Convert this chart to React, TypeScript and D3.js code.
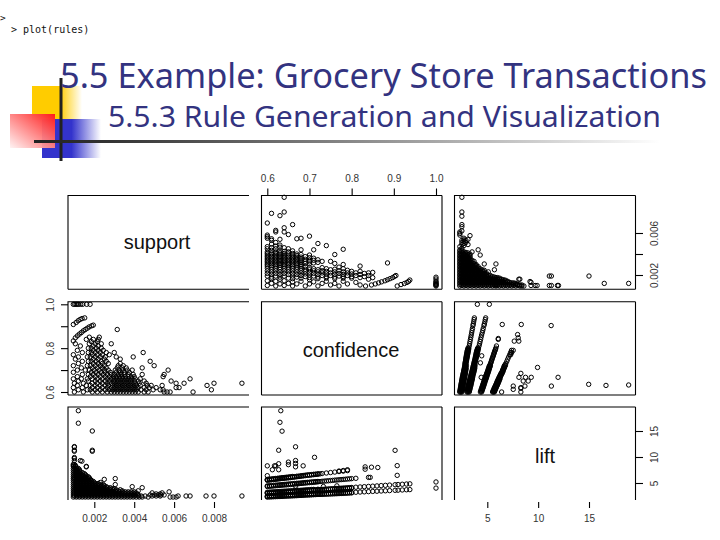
import React, { useEffect, useRef } from "react";
import * as d3 from "d3";

const titleText = "5.5 Example: Grocery Store Transactions";
const subtitleText = "5.5.3 Rule Generation and Visualization";
const promptLines = [">", "> plot(rules)"];
const variableNames = ["support", "confidence", "lift"];

const supportTicks = [0.002, 0.004, 0.006, 0.008];
const supportSideTicks = [0.002, 0.004, 0.006];
const supportSideLabels = [0.002, 0.006];
const confidenceTicks = [0.6, 0.7, 0.8, 0.9, 1.0];
const confidenceSideLabels = [0.6, 0.8, 1.0];
const liftTicks = [5, 10, 15];

// Rules. Support is in thousandths.
// [confidence, supports...]
const confidenceSupportRows: [number, number[]][] = [
  [1.0, [0.95, 1.02, 1.09, 1.15, 1.22, 1.32, 1.42, 1.62, 1.79]],
  [0.938, [1.52]], [0.935, [1.39]], [0.931, [1.29]], [0.925, [1.19]], [0.917, [1.09]], [0.908, [0.95]],
  [0.905, [1.95]], [0.902, [1.87]], [0.897, [1.75]], [0.891, [1.65]], [0.885, [1.55, 3.15]], [0.879, [1.45]],
  [0.871, [1.35]], [0.864, [1.25]], [0.856, [1.15]], [0.847, [1.05]], [0.833, [0.95]],
  [0.85, [1.75, 2.25]], [0.84, [1.6, 1.95, 2.2]], [0.83, [1.85, 2.15]],
  [0.82, [1.05, 1.75, 2.05, 2.35, 2.85]],
  [0.81, [1.3, 1.95, 2.2]],
  [0.80, [1.7, 1.85, 2.1, 2.35]],
  [0.79, [1.15, 1.95, 2.2, 2.45]],
  [0.78, [1.4, 1.7, 1.85, 2.05, 2.3, 2.6, 3.0, 4.45]],
  [0.77, [0.95, 1.9, 2.15, 2.4, 2.75]],
  [0.76, [1.2, 1.65, 1.8, 2.05, 2.3, 2.55, 3.1, 3.95]],
  [0.75, [1.05, 1.95, 2.2, 2.5, 3.3]],
  [0.74, [1.4, 1.7, 1.85, 2.1, 2.35, 2.6, 4.8]],
  [0.73, [1.2, 1.95, 2.2, 2.4, 2.7, 3.3]],
  [0.72, [0.95, 1.65, 1.8, 2.05, 2.3, 2.5, 3.2, 3.45, 5.0]],
  [0.71, [1.35, 1.9, 2.15, 2.4, 2.6, 3.15, 3.4, 3.6, 4.4]],
  [0.70, [1.15, 1.55, 1.75, 2.0, 2.25, 2.5, 2.7, 3.05, 3.25, 3.4, 3.65, 3.9, 5.7]],
  [0.69, [0.95, 1.85, 2.1, 2.35, 2.55, 2.8, 3.1, 3.3, 3.5, 3.75]],
  [0.68, [1.4, 1.7, 1.95, 2.2, 2.45, 2.65, 2.85, 3.0, 3.2, 3.35, 3.5, 3.7, 3.95, 4.4, 5.5]],
  [0.67, [1.15, 1.8, 2.05, 2.3, 2.55, 2.75, 2.95, 3.1, 3.25, 3.4, 3.55, 3.7, 3.85, 4.0, 5.45]],
  [0.66, [0.95, 1.35, 1.65, 1.9, 2.15, 2.4, 2.65, 2.85, 3.0, 3.15, 3.3, 3.45, 3.6, 3.75, 3.9, 4.05, 4.3, 6.8]],
  [0.65, [1.2, 1.7, 2.05, 2.3, 2.55, 2.75, 2.95, 3.08, 3.22, 3.38, 3.52, 3.68, 3.82, 4.0, 4.2, 4.5, 5.85]],
  [0.64, [1.0, 1.45, 1.9, 2.15, 2.4, 2.65, 2.85, 3.0, 3.15, 3.3, 3.45, 3.6, 3.75, 3.9, 4.05, 4.25, 4.6, 6.1, 6.5, 8.0, 9.4]],
  [0.63, [1.15, 1.6, 1.8, 2.05, 2.3, 2.55, 2.72, 2.92, 3.08, 3.22, 3.38, 3.52, 3.68, 3.82, 3.98, 4.12, 4.3, 4.65, 4.85, 5.4, 7.65]],
  [0.62, [0.95, 1.4, 1.9, 2.15, 2.4, 2.65, 2.85, 3.0, 3.15, 3.3, 3.45, 3.6, 3.75, 3.9, 4.05, 4.2, 4.5, 4.75, 5.1, 6.1, 6.25]],
  [0.61, [1.2, 1.65, 1.8, 2.05, 2.3, 2.55, 2.75, 2.92, 3.08, 3.22, 3.38, 3.52, 3.68, 3.82, 3.98, 4.12, 4.35, 4.6, 4.95, 5.3, 5.45, 7.87]],
  [0.60, [1.0, 1.45, 1.9, 2.15, 2.4, 2.65, 2.85, 3.0, 3.15, 3.3, 3.45, 3.6, 3.75, 3.9, 4.05, 4.2, 4.5, 4.7, 5.5, 5.65, 5.8, 6.95]],
];

// [lift, supports...]
const liftSupportRows: [number, number[]][] = [
  [2.3, [0.95, 1.1, 1.25, 1.4, 1.55, 1.7, 1.85, 2.0, 2.15, 2.3, 2.45, 2.6, 2.75, 2.9, 3.05, 3.2, 3.35, 3.5, 3.65, 3.8, 3.95, 4.1, 4.25, 4.4, 4.7, 5.8, 5.95, 6.1]],
  [2.5, [1.0, 1.15, 1.3, 1.45, 1.6, 1.75, 1.9, 2.05, 2.2, 2.35, 2.5, 2.65, 2.8, 2.95, 3.1, 3.25, 3.4, 3.55, 3.7, 3.85, 4.0, 4.2, 4.35, 4.55, 4.9, 5.1, 5.3, 6.2, 6.6, 6.8, 7.6, 8.0, 9.4]],
  [2.7, [0.95, 1.1, 1.25, 1.4, 1.55, 1.7, 1.85, 2.0, 2.15, 2.3, 2.45, 2.6, 2.75, 2.9, 3.05, 3.2, 3.35, 3.5, 3.65, 3.8, 3.95, 4.05, 4.2, 4.8, 5.0, 5.2, 5.35, 5.5]],
  [2.9, [1.0, 1.15, 1.3, 1.45, 1.6, 1.75, 1.9, 2.05, 2.2, 2.35, 2.5, 2.65, 2.8, 2.95, 3.1, 3.25, 3.4, 3.55, 3.7, 3.85, 4.0, 4.15, 5.1, 5.3]],
  [3.1, [0.95, 1.1, 1.25, 1.4, 1.55, 1.7, 1.85, 2.0, 2.15, 2.3, 2.45, 2.6, 2.75, 2.9, 3.05, 3.2, 3.35, 3.5, 3.65, 3.8, 3.95, 4.1, 4.9, 5.4]],
  [3.3, [1.0, 1.15, 1.3, 1.45, 1.6, 1.75, 1.9, 2.05, 2.2, 2.35, 2.5, 2.65, 2.8, 2.95, 3.1, 3.25, 3.4, 3.55, 3.7, 3.85, 4.0, 5.75]],
  [3.5, [0.95, 1.1, 1.25, 1.4, 1.55, 1.7, 1.85, 2.0, 2.15, 2.3, 2.45, 2.6, 2.75, 2.9, 3.05, 3.2, 3.4, 4.2]],
  [3.7, [1.0, 1.15, 1.3, 1.45, 1.6, 1.75, 1.9, 2.05, 2.2, 2.35, 2.5, 2.65, 2.8, 2.95, 3.1, 3.3]],
  [3.9, [0.95, 1.1, 1.25, 1.4, 1.55, 1.7, 1.85, 2.0, 2.15, 2.3, 2.45, 2.6, 2.75, 2.9, 3.0]],
  [4.1, [1.0, 1.15, 1.3, 1.45, 1.6, 1.75, 1.9, 2.05, 2.2, 2.35, 2.5, 2.65, 2.8, 4.4]],
  [4.3, [0.95, 1.1, 1.25, 1.4, 1.55, 1.7, 1.85, 2.0, 2.15, 2.3, 2.45, 2.6, 3.9]],
  [4.5, [1.0, 1.15, 1.3, 1.45, 1.6, 1.75, 1.9, 2.05, 2.2, 2.35, 2.5]],
  [4.7, [0.95, 1.1, 1.25, 1.4, 1.55, 1.7, 1.85, 2.0, 2.15, 2.3, 2.45, 3.05]],
  [4.9, [1.0, 1.15, 1.3, 1.45, 1.6, 1.75, 1.9, 2.05, 2.2]],
  [5.1, [0.95, 1.1, 1.25, 1.4, 1.55, 1.7, 1.85, 2.0, 2.3]],
  [5.3, [1.0, 1.15, 1.3, 1.45, 1.6, 1.75, 1.95]],
  [5.5, [0.95, 1.1, 1.25, 1.4, 1.55, 1.7, 1.85]],
  [5.7, [1.0, 1.15, 1.3, 1.45, 1.6, 1.8, 2.5]],
  [5.85, [0.95, 1.1, 1.25, 1.4, 1.55, 1.75, 3.05]],
  [6.0, [1.0, 1.15, 1.3, 1.45, 1.6, 1.75]],
  [6.2, [0.95, 1.1, 1.25, 1.4, 1.55, 1.7]],
  [6.4, [1.0, 1.15, 1.3, 1.45, 1.6]],
  [6.6, [0.95, 1.1, 1.25, 1.4, 1.55]],
  [6.8, [1.0, 1.15, 1.3, 1.5]],
  [7.0, [0.95, 1.1, 1.25, 1.4]],
  [7.2, [1.0, 1.15, 1.3]],
  [7.4, [0.95, 1.1, 1.25]],
  [7.6, [1.0, 1.15, 1.25]],
  [7.8, [0.95, 1.1, 1.2]],
  [8.0, [1.0, 1.1]],
  [8.2, [0.95, 1.05, 1.6]],
  [8.4, [0.95, 1.05]],
  [8.6, [0.95]],
  [9.3, [1.0, 1.3]], [9.9, [1.0]], [9.7, [1.0]], [9.2, [1.38]], [8.1, [1.6]],
  [11.1, [1.0, 1.9]], [11.3, [1.0, 1.9]], [11.9, [1.0]], [12.0, [1.0]],
  [15.0, [1.9]], [16.5, [1.2]], [18.9, [1.2]],
];

// [confidence, lifts...]
const confidenceLiftRows: [number, number[]][] = [
  [1.0, [4.02, 5.2]],
  [0.938, [3.73, 4.84]], [0.93, [3.7, 4.8]], [0.92, [3.66, 4.76]], [0.91, [3.62, 4.71]],
  [0.908, [6.47, 8.34]], [0.903, [3.59, 4.67, 11.28]], [0.89, [3.54, 4.6]], [0.88, [3.5, 4.55]],
  [0.87, [3.46, 4.5]], [0.862, [7.98]], [0.86, [3.42, 4.44]], [0.85, [3.38, 4.39]],
  [0.847, [8.04]], [0.844, [6.08]], [0.84, [3.34, 4.34, 6.08]], [0.832, [7.65, 8.1]],
  [0.83, [3.3, 4.29]], [0.82, [3.26, 4.24]], [0.81, [3.22, 4.19, 5.9]],
  [0.80, [3.18, 3.1, 4.13, 4.05, 5.84]], [0.795, [3.16, 3.08, 4.1, 4.02, 5.8]],
  [0.79, [3.14, 3.04, 4.08, 3.98, 5.77, 7.38, 7.55]], [0.785, [3.12, 3.02, 4.05, 3.95, 5.72]],
  [0.78, [3.1, 3.0, 4.03, 3.93, 5.69, 7.29, 7.4]], [0.775, [3.08, 2.98, 4.0, 3.9, 5.65]],
  [0.77, [3.06, 2.96, 3.98, 3.88, 5.62, 7.2, 7.3]],
  [0.765, [3.04, 2.94, 3.95, 3.86, 5.58, 4.45]], [0.76, [3.02, 2.92, 3.93, 3.83, 5.55, 7.1]],
  [0.755, [3.0, 2.9, 3.9, 3.81, 5.5]], [0.75, [2.98, 2.89, 3.88, 3.79, 5.47, 7.01]],
  [0.745, [2.96, 2.87, 3.85, 3.76, 5.43]], [0.74, [2.94, 2.85, 3.82, 3.73, 5.4, 6.92]],
  [0.735, [2.92, 2.83, 3.8, 3.71, 5.36]], [0.733, [4.32]], [0.73, [2.9, 2.81, 3.77, 3.68, 5.33, 6.82]],
  [0.725, [2.88, 2.8, 3.75, 3.66, 5.28, 6.76]],
  [0.72, [2.8, 2.86, 2.94, 3.63, 3.72, 3.8, 5.22, 5.3, 6.68, 6.78]],
  [0.715, [2.77, 2.84, 3.6, 3.7, 5.17, 5.27, 6.65, 6.7]],
  [0.712, [9.94]],
  [0.71, [2.75, 2.82, 2.92, 3.58, 3.67, 3.77, 5.14, 5.22, 6.6, 6.68]],
  [0.705, [2.72, 2.8, 2.9, 3.55, 3.65, 3.75, 5.1, 5.2, 6.56, 6.62]],
  [0.70, [2.7, 2.78, 2.89, 3.52, 3.62, 3.72, 5.07, 5.15, 6.5, 6.58]],
  [0.695, [2.68, 2.76, 2.87, 3.5, 3.6, 3.7, 5.03, 5.13, 6.48, 6.55]],
  [0.69, [2.66, 2.74, 2.86, 3.47, 3.57, 3.67, 4.99, 5.09, 6.42, 6.5]],
  [0.685, [2.63, 2.72, 2.84, 3.44, 3.54, 3.64, 4.95, 5.05, 6.35, 6.45, 8.3]],
  [0.68, [2.61, 2.7, 2.82, 3.41, 3.51, 3.61, 4.91, 5.01, 6.3, 6.4]],
  [0.675, [2.59, 2.68, 2.8, 3.38, 3.48, 3.58, 4.87, 4.97, 6.25, 6.33]],
  [0.67, [2.56, 2.66, 2.78, 3.36, 3.46, 3.56, 4.83, 4.95, 6.2, 6.3]],
  [0.667, [4.4, 8.11, 8.76, 9.32, 11.96]],
  [0.665, [2.54, 2.64, 2.76, 3.32, 3.44, 3.55, 4.79, 4.91, 6.14, 6.22]],
  [0.66, [2.52, 2.62, 2.74, 3.29, 3.41, 3.53, 4.76, 4.88, 6.1, 6.17, 6.25]],
  [0.655, [2.5, 2.6, 2.72, 3.26, 3.38, 3.5, 4.71, 4.83, 6.04, 6.12, 6.2]],
  [0.65, [2.48, 2.58, 2.7, 3.24, 3.36, 3.48, 4.68, 4.8, 5.99, 6.07, 6.15, 8.53, 9.02]],
  [0.645, [2.46, 2.56, 2.68, 3.21, 3.33, 3.45, 4.64, 4.76, 5.95, 6.03, 6.11]],
  [0.64, [2.44, 2.54, 2.66, 3.19, 3.31, 3.43, 4.61, 4.73, 5.9, 5.98, 6.06]],
  [0.635, [2.42, 2.52, 2.64, 3.16, 3.28, 3.4, 4.57, 4.69, 5.86, 5.94, 6.02, 14.97]],
  [0.632, [18.9]],
  [0.63, [2.4, 2.5, 2.62, 3.14, 3.26, 3.38, 4.54, 4.66, 5.81, 5.89, 5.97, 16.67]],
  [0.627, [7.55, 8.7, 11.3]],
  [0.625, [2.39, 2.49, 2.61, 3.11, 3.23, 3.35, 4.5, 4.62, 5.76, 5.84, 5.92]],
  [0.62, [2.37, 2.47, 2.59, 3.08, 3.2, 3.32, 4.47, 4.59, 5.71, 5.79, 5.87, 8.3]],
  [0.617, [8.3]],
  [0.615, [2.35, 2.45, 2.57, 3.06, 3.18, 3.3, 4.43, 4.55, 5.66, 5.75, 5.83]],
  [0.612, [7.55]],
  [0.61, [2.33, 2.43, 2.55, 3.04, 3.15, 3.27, 4.39, 4.51, 5.62, 5.7, 5.78]],
  [0.605, [2.31, 2.41, 2.52, 3.02, 3.13, 3.25, 4.36, 4.48, 5.56, 5.65, 5.74]],
  [0.60, [2.29, 2.39, 2.5, 3.0, 3.1, 3.22, 4.32, 4.44, 5.52, 5.6, 5.7, 6.41, 8.3]],
];

const W = 720, H = 540;
const R = 2.2;

export default function App() {
  const ref = useRef<SVGSVGElement | null>(null);

  useEffect(() => {
    const svg = d3.select(ref.current!);
    svg.selectAll("*").remove();

    const defs = svg.append("defs");
    const fade = (id: string, stops: [number, string, number][], x1 = 0, y1 = 0, x2 = 1, y2 = 0) => {
      const g = defs.append("linearGradient").attr("id", id)
        .attr("x1", x1).attr("y1", y1).attr("x2", x2).attr("y2", y2);
      stops.forEach(([o, c, a]) => g.append("stop").attr("offset", o).attr("stop-color", c).attr("stop-opacity", a));
    };
    fade("yellowFade", [[0, "#ffcc00", 1], [0.55, "#ffcc00", 1], [1, "#ffcc00", 0]]);
    fade("blueFade", [[0, "#3333cc", 1], [0.5, "#3333cc", 1], [1, "#3333cc", 0]]);
    fade("redFade", [[0, "#ff1a1a", 1], [1, "#ff1a1a", 0.05]], 1, 0, 0, 1);
    fade("ruleFade", [[0, "#222222", 1], [0.12, "#333333", 1], [1, "#222222", 0]]);

    // Slide decoration
    const deco = svg.append("g");
    deco.append("rect").attr("x", 32).attr("y", 86).attr("width", 50).attr("height", 34).attr("fill", "url(#yellowFade)");
    deco.append("rect").attr("x", 42).attr("y", 119).attr("width", 59).attr("height", 39).attr("fill", "url(#blueFade)");
    deco.append("rect").attr("x", 10).attr("y", 114).attr("width", 45).attr("height", 34).attr("fill", "#ffffff").attr("opacity", 0.9);
    deco.append("rect").attr("x", 10).attr("y", 114).attr("width", 45).attr("height", 34).attr("fill", "url(#redFade)");
    deco.append("rect").attr("x", 59.5).attr("y", 78).attr("width", 3).attr("height", 83).attr("fill", "#222222");
    deco.append("rect").attr("x", 34).attr("y", 140).attr("width", 626).attr("height", 3).attr("fill", "url(#ruleFade)");

    // Console text
    const mono = "'DejaVu Sans Mono', monospace";
    svg.append("text").attr("x", 0).attr("y", 21).attr("font-family", mono).attr("font-size", 9.5).attr("fill", "#111").text(promptLines[0]);
    svg.append("text").attr("x", 11).attr("y", 33).attr("font-family", mono).attr("font-size", 10).attr("fill", "#111").text(promptLines[1]);

    // Titles
    svg.append("text").attr("x", 60).attr("y", 88).attr("font-family", "'Noto Sans', sans-serif").attr("font-size", 34)
      .attr("fill", "#333380").attr("textLength", 647).attr("lengthAdjust", "spacingAndGlyphs").text(titleText);
    svg.append("text").attr("x", 108).attr("y", 127).attr("font-family", "'Noto Sans', sans-serif").attr("font-size", 29)
      .attr("fill", "#333380").attr("textLength", 553).attr("lengthAdjust", "spacingAndGlyphs").text(subtitleText);

    const colX: [number, number][] = [[68, 249], [261.5, 442], [454.5, 635.5]];
    const rowY: [number, number][] = [[195.5, 289.3], [301.7, 395], [407, 500]];

    const xScales = [
      d3.scaleLinear().domain([0.002, 0.008]).range([94.3, 214]),
      d3.scaleLinear().domain([0.6, 1.0]).range([267.3, 436]),
      d3.scaleLinear().domain([5, 15]).range([487.3, 589]),
    ];
    const yScales = [
      d3.scaleLinear().domain([0.002, 0.006]).range([275, 233]),
      d3.scaleLinear().domain([0.6, 1.0]).range([392, 304.3]),
      d3.scaleLinear().domain([5, 15]).range([483, 431]),
    ];

    const confSupport = confidenceSupportRows.flatMap(([c, ss]) => ss.map((s) => [c, s / 1000]));
    const liftSupport = liftSupportRows.flatMap(([l, ss]) => ss.map((s) => [l, s / 1000]));
    const confLift = confidenceLiftRows.flatMap(([c, ls]) => ls.map((l) => [c, l]));

    // [row, col, points as [x value, y value]]
    const scatter: [number, number, number[][]][] = [
      [0, 1, confSupport],
      [0, 2, liftSupport],
      [1, 0, confSupport.map(([c, s]) => [s, c])],
      [1, 2, confLift.map(([c, l]) => [l, c])],
      [2, 0, liftSupport.map(([l, s]) => [s, l])],
      [2, 1, confLift],
    ];

    defs.append("clipPath").attr("id", "bottomCut").append("rect").attr("x", 0).attr("y", 0).attr("width", W).attr("height", 500);

    const marks = svg.append("g").attr("clip-path", "url(#bottomCut)");
    scatter.forEach(([r, c, pts]) => {
      marks.append("g").selectAll("circle").data(pts).join("circle")
        .attr("cx", (d) => xScales[c](d[0]))
        .attr("cy", (d) => yScales[r](d[1]))
        .attr("r", R)
        .attr("fill", "none")
        .attr("stroke", "#000")
        .attr("stroke-width", 1);
    });

    // Panel frames: the first column has no right edge, the last row no bottom edge.
    const frame = svg.append("g").attr("stroke", "#000").attr("stroke-width", 1.1).attr("fill", "none");
    rowY.forEach(([t, b], r) => colX.forEach(([l, rr], c) => {
      const pen = d3.path();
      pen.moveTo(rr, t); pen.lineTo(l, t); pen.lineTo(l, b);
      if (r < 2) { pen.moveTo(l, b); pen.lineTo(rr, b); }
      if (c > 0) { pen.moveTo(rr, t); pen.lineTo(rr, b); }
      frame.append("path").attr("d", pen.toString());
    }));

    // Panel labels
    const labelPos: [number, number][] = [[157, 249], [351, 357], [545, 463]];
    variableNames.forEach((name, i) => {
      svg.append("text").attr("x", labelPos[i][0]).attr("y", labelPos[i][1]).attr("text-anchor", "middle")
        .attr("font-family", "'Liberation Sans', Arial, sans-serif").attr("font-size", 20).attr("fill", "#111").text(name);
    });

    const styleAxis = (g: any) => {
      g.select(".domain").remove();
      g.selectAll("line").attr("stroke", "#000").attr("stroke-width", 1.1);
      g.selectAll("text").attr("font-family", "'Liberation Sans', Arial, sans-serif").attr("font-size", 10).attr("fill", "#333");
    };

    // Top axis of confidence
    svg.append("g").attr("transform", "translate(0,195)")
      .call(d3.axisTop(xScales[1]).tickValues(confidenceTicks).tickFormat(d3.format(".1f")).tickSize(6.5).tickPadding(7))
      .call(styleAxis);

    // Bottom axes, set off below the cut edge
    svg.append("g").attr("transform", "translate(0,502)")
      .call(d3.axisBottom(xScales[0]).tickValues(supportTicks).tickFormat(d3.format(".3f")).tickSize(6).tickPadding(7))
      .call(styleAxis);
    svg.append("g").attr("transform", "translate(0,502)")
      .call(d3.axisBottom(xScales[2]).tickValues(liftTicks).tickFormat(d3.format("d")).tickSize(6).tickPadding(7))
      .call(styleAxis);

    // Side axes with rotated labels; each tick group is already at its own y.
    const sideAxis = (axis: any, x: number, textX: number) => {
      const g = svg.append("g").attr("transform", `translate(${x},0)`).call(axis).call(styleAxis);
      g.selectAll("text")
        .attr("text-anchor", "middle")
        .attr("dy", 0)
        .attr("x", 0)
        .attr("y", 0)
        .attr("transform", `translate(${textX - x},0) rotate(-90)`);
      return g;
    };
    sideAxis(
      d3.axisRight(yScales[0]).tickValues(supportSideTicks).tickFormat((d: any) => (supportSideLabels.includes(d) ? d3.format(".3f")(d) : "")).tickSize(7.5),
      635.5, 658,
    );
    sideAxis(
      d3.axisLeft(yScales[1]).tickValues(confidenceTicks).tickFormat((d: any) => (confidenceSideLabels.includes(d) ? d3.format(".1f")(d) : "")).tickSize(7),
      68, 54,
    );
    sideAxis(
      d3.axisRight(yScales[2]).tickValues(liftTicks).tickFormat(d3.format("d")).tickSize(7.5),
      635.5, 658,
    );
  }, []);

  return (
    <svg
      ref={ref}
      width={W}
      height={H}
      viewBox={`0 0 ${W} ${H}`}
      style={{ position: "absolute", left: 0, top: 0, display: "block", background: "#ffffff" }}
    />
  );
}
